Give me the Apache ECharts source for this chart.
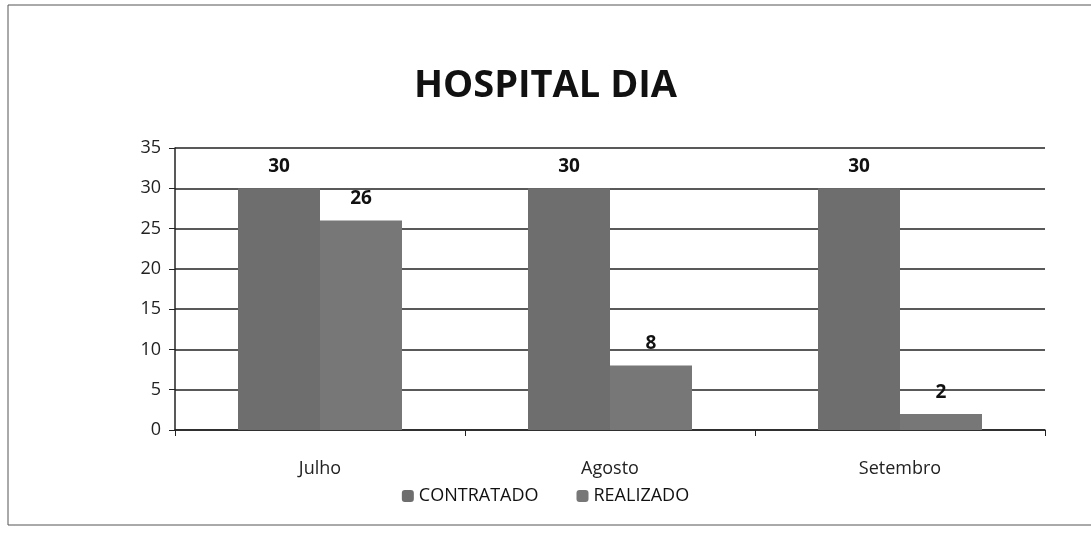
<!DOCTYPE html>
<html>
<head>
<meta charset="utf-8">
<script src="https://cdn.jsdelivr.net/npm/echarts@6/dist/echarts.min.js"></script>
<style>
  html, body { margin: 0; padding: 0; background: #fff; }
  #chart { width: 1091px; height: 550px; }
</style>
</head>
<body>
<div id="chart"></div>
<script>
'use strict'

var months = ['Julho', 'Agosto', 'Setembro'];
var contratado = [30, 30, 30];
var realizado = [26, 8, 2];
var yTicks = [0, 5, 10, 15, 20, 25, 30, 35];

var font = '"Open Sans", "Noto Sans", sans-serif';

var myChart = echarts.init(document.getElementById('chart'));

var labelStyle = {
    show: true,
    position: 'top',
    distance: 12,
    color: '#111',
    fontSize: 19,
    fontWeight: 'bold',
    fontFamily: font
};

// 图表配置
var option = {
    backgroundColor: '#fff',
    animation: false,
    title: {
        text: 'HOSPITAL DIA',
        left: 'center',
        top: 62,
        textStyle: { fontSize: 38, fontWeight: 'bold', color: '#111', fontFamily: font }
    },
    legend: {
        data: ['CONTRATADO', 'REALIZADO'],
        bottom: 40,
        left: 'center',
        itemWidth: 12,
        itemHeight: 12,
        itemGap: 38,
        textStyle: { fontSize: 18, color: '#111', fontFamily: font }
    },
    grid: { left: 175, right: 46, top: 148, bottom: 120 },
    xAxis: {
        type: 'category',
        data: months,
        axisLine: { lineStyle: { color: '#222', width: 1.5 } },
        axisTick: { show: true, length: 6, lineStyle: { color: '#222' } },
        axisLabel: { fontSize: 18, color: '#222', margin: 30, fontFamily: font }
    },
    yAxis: {
        type: 'value',
        min: yTicks[0],
        max: yTicks[yTicks.length - 1],
        interval: yTicks[1] - yTicks[0],
        axisLine: { show: true, lineStyle: { color: '#222', width: 1.5 } },
        axisTick: { show: true, length: 6, lineStyle: { color: '#222' } },
        axisLabel: { fontSize: 18, color: '#222', margin: 14, fontFamily: font },
        splitLine: { lineStyle: { color: '#222', width: 1.5 } }
    },
    series: [{
        name: 'CONTRATADO',
        type: 'bar',
        data: contratado,
        barWidth: 82,
        barGap: '0%',
        itemStyle: { color: '#6e6e6e' },
        label: labelStyle
    }, {
        name: 'REALIZADO',
        type: 'bar',
        data: realizado,
        barWidth: 82,
        itemStyle: { color: '#777777' },
        label: labelStyle
    }],
    graphic: [{
        type: 'rect',
        shape: { x: 8, y: 5, width: 1100, height: 520 },
        style: { fill: 'none', stroke: '#555', lineWidth: 1 }
    }]
};

myChart.setOption(option);
</script>
</body>
</html>
